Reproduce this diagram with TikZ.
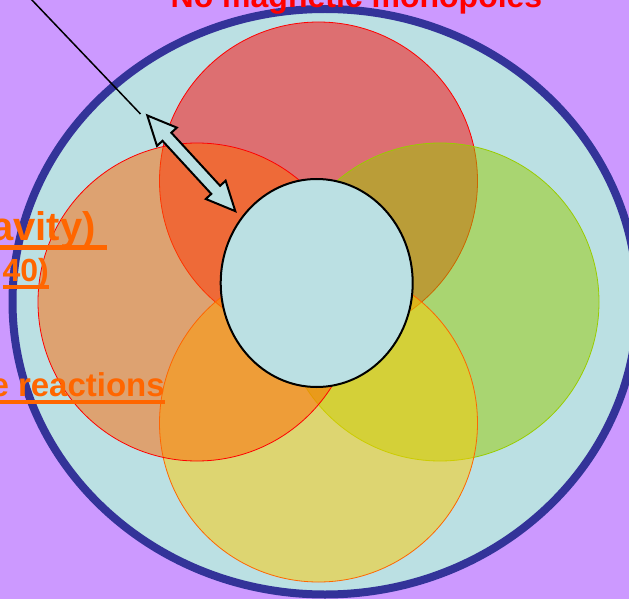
\documentclass[tikz,border=0pt]{standalone}
\usepackage{fontspec}
\setmainfont{Liberation Sans}
\usetikzlibrary{shapes.geometric, shapes.arrows}

\definecolor{slideviolet}{RGB}{204,153,255}
\definecolor{ringblue}{RGB}{51,51,153}
\definecolor{paleblue}{RGB}{187,224,227}
\definecolor{lawngreen}{RGB}{153,204,0}
\definecolor{sunyellow}{RGB}{255,204,0}
\definecolor{hotorange}{RGB}{255,102,0}

% underlined word, rule drawn at a fixed depth below the baseline
\newcommand{\ulword}[1]{\setbox0\hbox{#1}\rlap{\rule[-0.24em]{\wd0}{0.12em}}\box0}

\begin{document}
\begin{tikzpicture}[x=1pt, y=-1pt,
    lobe/.style={fill=#1, fill opacity=0.5, line width=0.8pt},
    core/.style={ellipse, draw, line width=2pt, fill=paleblue,
      minimum width=192pt, minimum height=208pt, inner sep=0pt},
    twoway/.style={double arrow, draw, line width=2pt, fill=paleblue,
      inner xsep=0pt, inner ysep=5pt, minimum height=130pt,
      double arrow head extend=7.5pt, double arrow tip angle=50},
    title/.style={text=red, inner sep=0pt, anchor=base,
      font=\bfseries\fontsize{32}{36}\selectfont},
    sidenote/.style={text=hotorange, inner sep=0pt, anchor=base east}]
  % page and outer ring
  \useasboundingbox (0,0) rectangle (629,599);
  \clip (0,0) rectangle (629,599);
  \fill[slideviolet] (0,0) rectangle (629,599);
  \filldraw[fill=paleblue, draw=ringblue, line width=8pt]
    (325,301.75) ellipse [x radius=312.5pt, y radius=292.75pt];
  % four lobes: top, right, bottom, left
  \filldraw[lobe=red, draw=red] (318.5,181) circle (159pt);
  \filldraw[lobe=lawngreen, draw=lawngreen] (440,302) circle (159pt);
  \filldraw[lobe=sunyellow, draw=hotorange] (318.5,423) circle (159pt);
  \filldraw[lobe=hotorange, draw=red] (197,302) circle (159pt);
  % centre and the arrow into it
  \node[core] (hub) at (316.7,283) {};
  \node[twoway, rotate=-47.4] (probe) at (191.3,163.3) {};
  \coordinate (tether) at (-11.5,-45.6);
  \coordinate (tetherend) at (140.5,114);
  \draw[line width=1.5pt] (tether) -- (tetherend);
  % texts
  \node[title] (monopoles) at (356.5,8) {No magnetic monopoles};
  \node[sidenote, font=\bfseries\fontsize{40}{44}\selectfont] (gravity)
    at (107,240) {\ulword{avity)~}};
  \node[sidenote, font=\bfseries\fontsize{32}{36}\selectfont] (year)
    at (49,281) {\ulword{40)}};
  \node[sidenote, font=\bfseries\fontsize{33}{36}\selectfont] (reactions)
    at (165,396) {\ulword{e reactions}};
\end{tikzpicture}
\end{document}
